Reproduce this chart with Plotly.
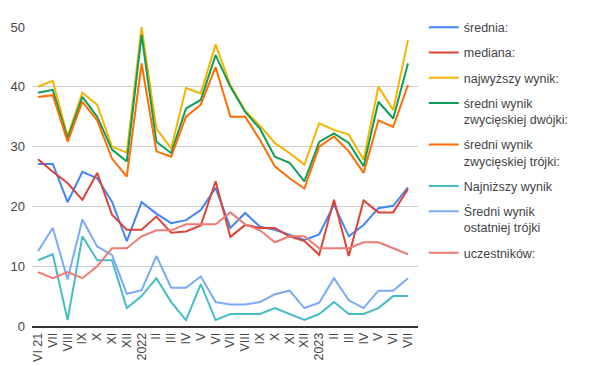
import plotly.graph_objects as go

labels = ["VI 21", "VII", "VIII", "IX", "X", "XI", "XII", "2022", "II", "III", "IV", "V", "VI",
          "VII", "VIII", "IX", "X", "XI", "XII", "2023", "II", "III", "IV", "V", "VI", "VII"]

srednia = [27.1, 27.1, 20.7, 25.8, 24.7, 20.8, 14.2, 20.7, 18.8, 17.2, 17.7, 19.4, 23.1,
           16.4, 18.9, 16.6, 16.1, 15.3, 14.4, 15.3, 20.3, 15.0, 16.9, 19.7, 20.1, 23.2]
mediana = [27.9, 25.8, 23.9, 21.1, 25.6, 18.6, 16.1, 16.1, 18.3, 15.6, 15.8, 16.8, 24.2,
           14.9, 16.9, 16.4, 16.4, 15.0, 14.2, 11.9, 21.1, 11.7, 21.0, 19.0, 19.0, 22.9]
najwyzszy = [40, 41, 31.7, 39, 37, 30, 29, 50, 33, 29.7, 39.8, 38.9, 47.1,
             40.3, 36, 33.5, 30.6, 28.9, 27, 33.9, 32.8, 32, 27.8, 40, 36.1, 47.8]
dwojki = [39, 39.5, 31.4, 38.3, 35, 29.5, 27.5, 48.7, 30.8, 28.9, 36.4, 37.8, 45.3,
          40, 35.8, 33, 28.3, 27.3, 24.2, 30.8, 32.2, 30.6, 26.7, 37.5, 34.7, 43.9]
trojki = [38.3, 38.6, 30.8, 37.5, 34.4, 28, 25, 43.9, 29.2, 28.3, 35, 37, 43.3,
          35, 35, 31.1, 26.7, 24.7, 23, 30, 31.7, 29.2, 25.6, 34.4, 33.3, 40.3]
najnizszy = [11, 12, 1, 15, 11, 11, 3, 5, 8, 4, 1, 7, 1,
             2, 2, 2, 3, 2, 1, 2, 4, 2, 2, 3, 5, 5]
ostatniej = [12.5, 16.4, 7.8, 17.8, 13.3, 11.9, 5.4, 6, 11.7, 6.4, 6.4, 8.3, 4,
             3.6, 3.6, 4, 5.3, 5.9, 3, 3.9, 8, 4.3, 3, 5.9, 5.9, 8]
uczestnikow = [9, 8, 9, 8, 10, 13, 13, 15, 16, 16, 17, 17, 17,
               19, 17, 16, 14, 15, 15, 13, 13, 13, 14, 14, 13, 12]

series = [
    ("średnia:", srednia, "#4285F4"),
    ("mediana:", mediana, "#DB4437"),
    ("najwyższy wynik:", najwyzszy, "#F4B400"),
    ("średni wynik<br>zwycięskiej dwójki:", dwojki, "#0F9D58"),
    ("średni wynik<br>zwycięskiej trójki:", trojki, "#FF6D01"),
    ("Najniższy wynik", najnizszy, "#46BDC6"),
    ("Średni wynik<br>ostatniej trójki", ostatniej, "#7BAAF7"),
    ("uczestników:", uczestnikow, "#F07B72"),
]

x = list(range(len(labels)))
fig = go.Figure()
for i, (name, vals, col) in enumerate(series):
    fig.add_trace(go.Scatter(x=x, y=vals, mode="lines", name=name,
                             legendgroup=f"g{i}",
                             line=dict(color=col, width=2)))

font = "Liberation Sans, Arial, sans-serif"
# page body adds an 8px margin, so the figure is sized 603x358 to fill the 611x366 window
fig.update_layout(
    width=603, height=358,
    margin=dict(l=24, r=193, t=19, b=40, autoexpand=False),
    plot_bgcolor="white", paper_bgcolor="white",
    font=dict(family=font, size=13, color="#444"),
    showlegend=True,
    legend=dict(x=1.015, xanchor="left", y=1.048, yanchor="top",
                font=dict(family=font, size=12.5, color="#444"),
                tracegroupgap=6, valign="top", maxheight=360,
                bgcolor="rgba(0,0,0,0)"),
    xaxis=dict(tickmode="array", tickvals=x, ticktext=labels, tickangle=-90,
               range=[-0.405, 25.676], showgrid=False, zeroline=False,
               showline=True, linecolor="#333", linewidth=1.5, automargin=False,
               ticks="", tickfont=dict(size=12.5, color="#444")),
    yaxis=dict(range=[0, 50], tickvals=[0, 10, 20, 30, 40, 50],
               showgrid=True, gridcolor="#cccccc", gridwidth=1, automargin=False,
               zeroline=False, showline=False, ticks="",
               ticklabelstandoff=6, tickfont=dict(size=13, color="#444")),
)

fig.write_html("out.html")
